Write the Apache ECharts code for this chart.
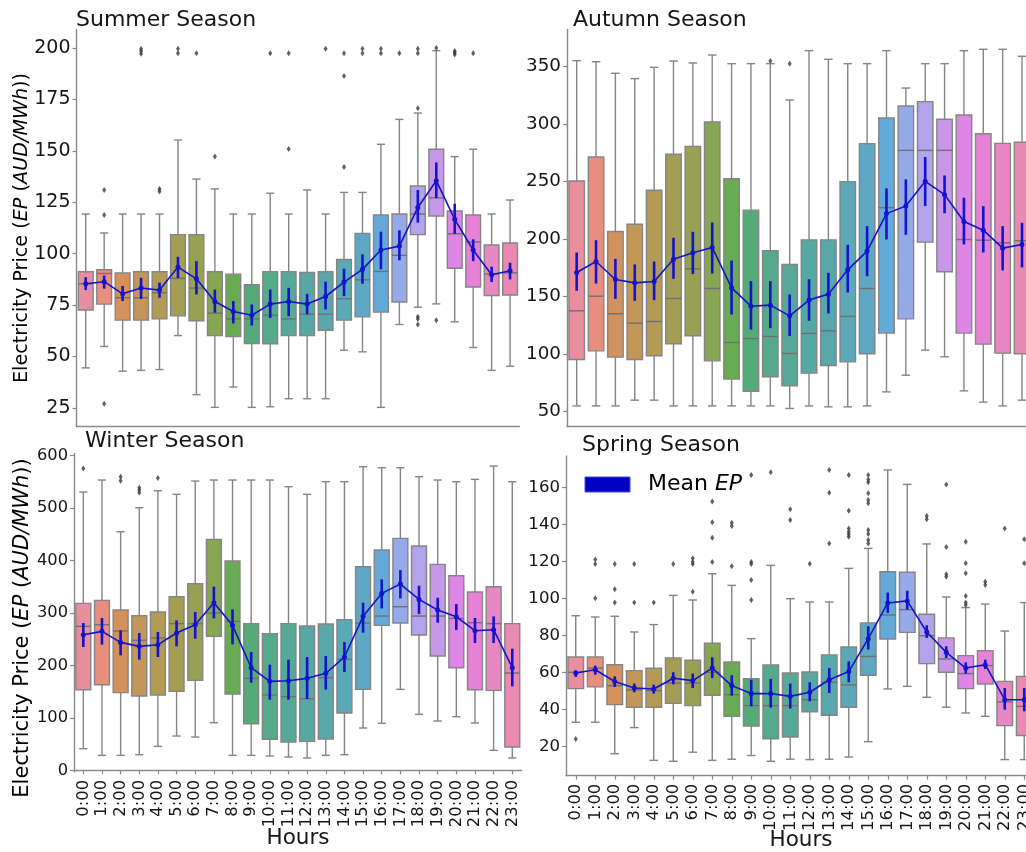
<!DOCTYPE html>
<html>
<head>
<meta charset="utf-8">
<script src="https://cdn.jsdelivr.net/npm/echarts@6/dist/echarts.min.js"></script>
<style>
  html, body { margin: 0; padding: 0; background: #ffffff; }
  #chart { width: 1026px; height: 852px; }
</style>
</head>
<body>
<div id="chart"></div>
<script>
// ---- hour categories ----
const hours = ['0:00','1:00','2:00','3:00','4:00','5:00','6:00','7:00','8:00','9:00','10:00','11:00',
               '12:00','13:00','14:00','15:00','16:00','17:00','18:00','19:00','20:00','21:00','22:00','23:00'];

// ---- Summer ----
const summerLow    = [44.5, 54.9, 42.9, 43.3, 43.7, 60.2, 31.5, 25.3, 35.2, 25.3, 25.6, 29.5, 29.5, 29.5, 53.1, 52.3, 25.3, 65.6, 74.0, 75.6, 66.9, 54.4, 43.3, 45.3];
const summerQ1     = [72.6, 75.5, 67.7, 67.7, 68.3, 69.8, 67.4, 60.2, 59.7, 56.3, 56.2, 60.2, 60.2, 62.8, 67.7, 69.3, 71.6, 76.5, 109.3, 118.3, 92.9, 83.8, 79.7, 79.9];
const summerMedian = [85.4, 90.4, 78.6, 78.6, 81.0, 88.0, 83.3, 71.1, 68.3, 68.3, 70.1, 68.3, 70.6, 70.6, 78.1, 87.3, 91.4, 99.2, 119.3, 127.2, 109.7, 105.7, 90.1, 90.7];
const summerQ3     = [91.2, 92.2, 90.6, 91.2, 91.2, 109.3, 109.3, 91.2, 90.1, 84.9, 91.2, 91.2, 90.9, 91.2, 97.2, 109.9, 118.8, 119.3, 132.9, 150.8, 120.8, 118.8, 104.2, 105.2];
const summerHigh   = [119.3, 110.1, 119.3, 119.3, 119.3, 155.3, 136.3, 131.5, 119.3, 119.3, 129.4, 119.3, 131.0, 119.3, 129.8, 129.8, 153.2, 165.3, 168.4, 198.7, 147.2, 150.8, 119.3, 126.1];
const summerMean   = [85.4, 86.4, 80.5, 83.3, 82.3, 93.5, 87.8, 76.8, 71.9, 70.1, 75.5, 76.8, 75.5, 79.2, 86.2, 92.4, 101.8, 103.7, 122.5, 135.5, 116.7, 101.8, 89.8, 91.7];
const summerCiLow  = [82.3, 83.0, 77.0, 78.0, 78.6, 88.2, 80.2, 71.3, 66.1, 65.1, 68.8, 69.6, 70.5, 72.9, 79.4, 85.4, 92.4, 96.8, 115.1, 127.0, 109.7, 96.4, 86.2, 87.5];
const summerCiHigh = [88.6, 89.4, 84.3, 88.3, 85.9, 98.5, 96.4, 82.6, 77.0, 75.3, 82.6, 83.4, 80.5, 86.4, 92.7, 99.7, 110.7, 111.4, 131.0, 144.4, 124.3, 107.0, 93.7, 95.6];
const summerOutliers = [[1,131],[1,118.8],[1,27.1],[3,199.7],[3,198.5],[3,197.2],[4,131.5],[4,130.2],[5,199.7],[5,197.4],
  [6,197.4],[7,147.2],[10,197.4],[11,197.4],[11,150.9],[13,199.7],[14,197.4],[14,186.4],[14,142.2],[15,199.7],[15,197.4],
  [16,199.7],[16,197.4],[17,197.4],[18,199.7],[18,197.4],[18,170.7],[18,69.3],[18,68.3],[18,65.6],[19,200],[19,67.7],
  [20,198.5],[20,197.7],[20,196.9],[21,197.4]];
const summerTicks = [25, 50, 75, 100, 125, 150, 175, 200];

// ---- Autumn ----
const autumnLow    = [55, 55, 55, 60, 60, 55, 55, 55, 55, 55, 55, 52.8, 55, 54.2, 54.2, 55, 67.2, 81.7, 103.5, 97.7, 68.1, 58.3, 55, 60];
const autumnQ1     = [95.4, 102.9, 97.4, 95.4, 98.6, 109, 116, 94.2, 78.3, 67.8, 80.3, 72.5, 83.5, 90.1, 93.3, 100.3, 118.3, 130.7, 197.4, 171.6, 118.3, 108.7, 100.9, 100.3];
const autumnMedian = [137.7, 150.4, 135.1, 127, 128.4, 148.4, 174.2, 157.1, 110.1, 113.6, 115.4, 100.6, 118, 120.3, 132.8, 157.1, 227.4, 277.2, 277.2, 277.2, 199.7, 199.1, 196.8, 198.6];
const autumnQ3     = [250.6, 271.4, 206.7, 213, 242.5, 273.8, 280.7, 301.9, 252.6, 225.2, 189.9, 178, 199.4, 199.4, 250, 283, 305.4, 315.8, 319.6, 304.2, 308, 291.7, 283.3, 284.2];
const autumnHigh   = [355.2, 354.3, 344.2, 339.6, 349.4, 354.9, 353.2, 360.1, 352.6, 352.6, 352.6, 321, 363.9, 356.4, 352.6, 352.6, 363.9, 331.4, 352.6, 352.6, 363.9, 365.1, 365.1, 359];
const autumnMean   = [171, 180.6, 164.9, 162, 163.2, 182.6, 188.1, 192.8, 157.7, 141.7, 142.6, 133.3, 147, 152.2, 173.3, 189.6, 222.2, 228.8, 250.3, 238.7, 215.4, 207.8, 192.2, 195.4];
const autumnCiLow  = [155.1, 161.4, 148.1, 146.4, 147, 165.5, 169.6, 170.1, 134.5, 121.4, 122.6, 115.7, 129, 135.4, 153.6, 167.8, 199.7, 203.8, 228.8, 222.5, 195.4, 188.4, 172.8, 175.4];
const autumnCiHigh = [188.4, 199.1, 182.9, 178, 180.6, 201.2, 206.4, 214.5, 181.4, 163.5, 163.5, 151.9, 165.2, 170.7, 195.1, 211.3, 244.2, 252, 271.4, 255.4, 236, 228.7, 211.3, 214.2];
const autumnOutliers = [[10, 355], [11, 352.6]];
const autumnTicks = [50, 100, 150, 200, 250, 300, 350];

// ---- Winter ----
const winterLow    = [41.3, 28.5, 28.5, 29.8, 45.7, 65.4, 63.5, 90.8, 28.5, 28.5, 27.3, 25.4, 23.5, 28.5, 29.8, 80.7, 89.6, 154.4, 106.7, 94, 102.3, 90.2, 38.1, 23.5];
const winterQ1     = [153.8, 163.3, 148.1, 141.7, 143.6, 150.6, 171.6, 255.5, 145.5, 88.9, 59, 54, 55.2, 59.7, 109.3, 154.4, 276.5, 280.9, 258, 218, 195.7, 153.8, 152.5, 44.4];
const winterMedian = [274.6, 277.7, 265.7, 247.9, 252.3, 279.7, 279.7, 300, 284.1, 175.4, 143.6, 140.4, 136.6, 176.7, 211.6, 280.9, 294.2, 312, 294.2, 294.2, 289.8, 281.6, 279.7, 185.6];
const winterQ3     = [318.4, 324.1, 305.7, 294.8, 301.8, 331.1, 355.9, 440.4, 399.1, 279.7, 260.6, 279.7, 275.2, 279, 287.3, 388.3, 420.1, 442.3, 427.7, 392.7, 371.1, 340, 350.2, 279.7];
const winterHigh   = [530.7, 553.6, 455, 500.8, 533.2, 526.3, 551.7, 553.6, 553.6, 553.6, 553.6, 540.9, 526.3, 550.4, 550.4, 579, 577.1, 577.1, 560, 553.6, 550.4, 554.9, 580.3, 550.4];
const winterMean   = [258.7, 265, 244, 236.4, 239.6, 261.9, 277.7, 319.6, 276.5, 195.7, 169.7, 170.9, 175.4, 185, 216.1, 293.6, 337.4, 355.2, 326, 305.7, 292.9, 266.3, 268.2, 195.7];
const winterCiLow  = [235.2, 239.6, 219.3, 211, 216.1, 236.4, 251, 289.8, 240.2, 167.1, 134.7, 134.7, 136, 153.8, 187.5, 262.5, 308.8, 327.9, 298, 281.5, 267.5, 242.8, 242.8, 160.1];
const winterCiHigh = [280.9, 290.5, 267, 261.9, 263.8, 286, 301.9, 350.2, 306.9, 225.6, 201.5, 211, 216.1, 218, 244.7, 319.6, 364.1, 381.9, 352.1, 329.2, 317.1, 290.5, 293.6, 232];
const winterOutliers = [[0, 575.8], [2, 560], [2, 552], [3, 539], [3, 534.5], [3, 529.4], [4, 557.4]];
const winterTicks = [0, 100, 200, 300, 400, 500, 600];

// ---- Spring ----
const springLow    = [33, 33, 16, 30.1, 12.4, 11.9, 16.8, 12.4, 13, 15, 11.9, 13, 12.8, 13, 14.2, 22.5, 51, 52.4, 46.5, 41.1, 38, 36.2, 12.8, 12.8];
const springQ1     = [51.2, 52.1, 42.5, 41.1, 41.1, 43.2, 42, 47.6, 36.2, 31, 24.1, 25, 38.7, 36.8, 41.1, 58.4, 78, 81.6, 64.7, 60, 51.2, 53.7, 31.2, 25.8];
const springMedian = [60, 62.3, 52.8, 50.5, 50.1, 54.2, 54.2, 60, 47.9, 42, 42, 42, 45.2, 54.6, 53.2, 68.6, 91, 93.9, 79.8, 67.2, 59.3, 63.6, 44, 41.6];
const springQ3     = [68.3, 68.3, 64.1, 60.9, 62.2, 67.7, 66.5, 75.7, 65.6, 56.6, 64, 59.6, 60.2, 69.4, 73.7, 86.7, 114.4, 114.1, 91.4, 78.6, 69, 71.7, 55.1, 57.8];
const springHigh   = [90.6, 89.9, 90.3, 81.8, 85.8, 101.6, 99.1, 113.3, 107, 78.2, 117.8, 99.8, 98, 98, 116.2, 127, 169.4, 161.6, 129.4, 100.7, 95, 96.9, 82.3, 97.7];
const springMean   = [59.6, 61.4, 55, 51.5, 51, 56.8, 55.5, 62.3, 52.8, 48.5, 48.5, 47, 49.2, 56, 60.4, 78.2, 97.5, 98.6, 81.8, 70.8, 62.3, 64.1, 45.2, 45.2];
const springCiLow  = [57.5, 58.7, 52.1, 49.2, 48.5, 53.5, 51.5, 56.9, 47.4, 41.6, 40.9, 40.4, 44.3, 48.8, 54.6, 72.3, 92.1, 93.9, 78.6, 67.7, 59.3, 61.8, 39.8, 38.9];
const springCiHigh = [61.1, 63.6, 57.8, 53.9, 53.3, 60, 59.3, 68.1, 58.4, 56, 56.4, 53.9, 54.6, 62.3, 65.9, 84.9, 103.1, 104.1, 85.4, 74.1, 65.4, 66.8, 51.5, 51.5];
const springOutliers = [[0,24],[1,121],[1,118.6],[1,100],[2,118.6],[2,104.9],[2,97.8],[3,118.6],[3,97.8],[4,97.8],[5,118.6],
  [6,121.6],[6,119.8],[6,118.6],[6,103.6],[7,152.3],[7,141.1],[7,132.8],[7,119.6],[8,140.9],[8,139.1],[8,117.3],
  [9,166.7],[9,119.6],[9,118.6],[9,109.9],[9,99.1],[10,168.1],[11,148.1],[11,142.3],[12,118.7],[13,169.4],[13,157.1],[13,129.7],
  [14,166.7],[14,147.4],[14,137.7],[14,136],[14,134.6],[14,133.3],[15,166.7],[15,164.3],[15,162.7],[15,156.8],[15,153.2],[15,151.4],
  [15,136.9],[15,134.8],[15,131.5],[15,129.7],[18,144.5],[18,142.7],[19,161.6],[19,127.7],[19,113],[19,111.7],
  [20,130.6],[20,118.9],[20,113.5],[20,101.3],[20,97.7],[20,96.4],[21,109],[21,107.2],[22,137.8],[23,131.9],[23,118.9]];
const springTicks = [20, 40, 60, 80, 100, 120, 140, 160];

// ---- colours: 24-step HUSL palette, desaturated for box fills ----
const HM = [[3.2406,-1.5372,-0.4986],[-0.9689,1.8758,0.0415],[0.0557,-0.2040,1.0570]];
function maxChroma(L, H) {
  const hr = H / 360 * Math.PI * 2, sinH = Math.sin(hr), cosH = Math.cos(hr);
  const sub1 = Math.pow(L + 16, 3) / 1560896;
  const sub2 = sub1 > 0.008856 ? sub1 : L / 903.3;
  let res = Infinity;
  for (const [m1, m2, m3] of HM) {
    const top = (0.99915 * m1 + 1.05122 * m2 + 1.14460 * m3) * sub2;
    const rb = 0.86330 * m3 - 0.17266 * m2;
    const lb = 0.12949 * m3 - 0.38848 * m1;
    const bottom = (rb * sinH + lb * cosH) * sub2;
    for (const t of [0, 1]) {
      const C = L * (top - 1.05122 * t) / (bottom + 0.17266 * sinH * t);
      if (C > 0 && C < res) res = C;
    }
  }
  return res;
}
function huslToRgb(H, S, L) {
  const C = maxChroma(L, H) / 100 * S;
  const hr = H / 360 * 2 * Math.PI;
  const U = C * Math.cos(hr), V = C * Math.sin(hr);
  const t = (L + 16) / 116;
  const Y = Math.pow(t, 3) > 0.008856 ? Math.pow(t, 3) : L / 903.3;
  const varU = U / (13 * L) + 0.19784;
  const varV = V / (13 * L) + 0.46834;
  const X = -(9 * Y * varU) / ((varU - 4) * varV - varU * varV);
  const Z = (9 * Y - 15 * varV * Y - varV * X) / (3 * varV);
  return HM.map(r => {
    let c = r[0] * X + r[1] * Y + r[2] * Z;
    c = c <= 0.0031308 ? 12.92 * c : 1.055 * Math.pow(c, 1 / 2.4) - 0.055;
    return Math.min(1, Math.max(0, c));
  });
}
function rgbToHls(r, g, b) {
  const mx = Math.max(r, g, b), mn = Math.min(r, g, b), l = (mx + mn) / 2;
  if (mx === mn) return [0, l, 0];
  const s = l <= 0.5 ? (mx - mn) / (mx + mn) : (mx - mn) / (2 - mx - mn);
  const rc = (mx - r) / (mx - mn), gc = (mx - g) / (mx - mn), bc = (mx - b) / (mx - mn);
  let h = r === mx ? bc - gc : g === mx ? 2 + rc - bc : 4 + gc - rc;
  h = ((h / 6) % 1 + 1) % 1;
  return [h, l, s];
}
function hlsToRgb(h, l, s) {
  if (s === 0) return [l, l, l];
  const m2 = l <= 0.5 ? l * (1 + s) : l + s - l * s, m1 = 2 * l - m2;
  const v = (hh) => {
    hh = ((hh % 1) + 1) % 1;
    if (hh < 1 / 6) return m1 + (m2 - m1) * hh * 6;
    if (hh < 0.5) return m2;
    if (hh < 2 / 3) return m1 + (m2 - m1) * (2 / 3 - hh) * 6;
    return m1;
  };
  return [v(h + 1 / 3), v(h), v(h - 1 / 3)];
}
const boxColors = hours.map((_, i) => {
  const hue = ((i / 24 + 0.01) % 1) * 359;
  const rgb = huslToRgb(hue, 0.9 * 99, 0.65 * 99);
  const [h, l, s] = rgbToHls(...rgb);
  const out = hlsToRgb(h, l, s * 0.75).map(c => c * 0.9 + 0.1);   // slightly softened fill
  return 'rgb(' + out.map(c => Math.round(c * 255)).join(',') + ')';
});

// ---- shared styling ----
const FONT = 'DejaVu Sans';
const EDGE = '#858585';
const AXIS = '#8a8a8a';
const BLUE = '#1414cc';
const TEXT = '#161616';

const panels = [
  { name: 'Summer', low: summerLow, q1: summerQ1, med: summerMedian, q3: summerQ3, high: summerHigh,
    mean: summerMean, ciLo: summerCiLow, ciHi: summerCiHigh, out: summerOutliers, ticks: summerTicks,
    grid: { left: 76.5, top: 29.5, width: 442.8, height: 397 }, min: 16, max: 209, tickFont: 19, bottom: false },
  { name: 'Autumn', low: autumnLow, q1: autumnQ1, med: autumnMedian, q3: autumnQ3, high: autumnHigh,
    mean: autumnMean, ciLo: autumnCiLow, ciHi: autumnCiHigh, out: autumnOutliers, ticks: autumnTicks,
    grid: { left: 567, top: 29.5, width: 464.7, height: 397 }, min: 37.1, max: 382.3, tickFont: 18.3, bottom: false },
  { name: 'Winter', low: winterLow, q1: winterQ1, med: winterMedian, q3: winterQ3, high: winterHigh,
    mean: winterMean, ciLo: winterCiLow, ciHi: winterCiHigh, out: winterOutliers, ticks: winterTicks,
    grid: { left: 74, top: 453.6, width: 447.6, height: 318.3 }, min: -3, max: 604, tickFont: 16.3, bottom: true },
  { name: 'Spring', low: springLow, q1: springQ1, med: springMedian, q3: springQ3, high: springHigh,
    mean: springMean, ciLo: springCiLow, ciHi: springCiHigh, out: springOutliers, ticks: springTicks,
    grid: { left: 566, top: 455.9, width: 468, height: 319.8 }, min: 4.1, max: 177, tickFont: 16.6, bottom: true }
];

function renderBox(params, api) {
  const i = api.value(0);
  const band = api.size([1, 0])[0];
  const bw = band * 0.8;
  const cw = bw * 0.55;
  const x = api.coord([i, 0])[0];
  const yl = api.coord([i, api.value(1)])[1];
  const y1 = api.coord([i, api.value(2)])[1];
  const ym = api.coord([i, api.value(3)])[1];
  const y3 = api.coord([i, api.value(4)])[1];
  const yh = api.coord([i, api.value(5)])[1];
  const ls = { stroke: EDGE, lineWidth: 1.4 };
  return {
    type: 'group',
    children: [
      { type: 'line', shape: { x1: x, y1: y3, x2: x, y2: yh }, style: ls },
      { type: 'line', shape: { x1: x, y1: y1, x2: x, y2: yl }, style: ls },
      { type: 'line', shape: { x1: x - cw / 2, y1: yh, x2: x + cw / 2, y2: yh }, style: ls },
      { type: 'line', shape: { x1: x - cw / 2, y1: yl, x2: x + cw / 2, y2: yl }, style: ls },
      { type: 'rect', shape: { x: x - bw / 2, y: y3, width: bw, height: y1 - y3 },
        style: { fill: boxColors[i], stroke: EDGE, lineWidth: 1.4 } },
      { type: 'line', shape: { x1: x - bw / 2, y1: ym, x2: x + bw / 2, y2: ym }, style: { stroke: '#707070', lineWidth: 1.4 } }
    ]
  };
}
function renderErr(params, api) {
  const i = api.value(0);
  const a = api.coord([i, api.value(1)]);
  const b = api.coord([i, api.value(2)]);
  return { type: 'line', shape: { x1: a[0], y1: a[1], x2: b[0], y2: b[1] },
           style: { stroke: BLUE, lineWidth: 2.6 } };
}

const grids = [], xAxes = [], yAxes = [], series = [];
panels.forEach((p, k) => {
  grids.push(Object.assign({ outerBoundsMode: 'none', containLabel: false }, p.grid));
  xAxes.push({
    gridIndex: k, type: 'category', data: hours, boundaryGap: true,
    axisLine: { show: true, lineStyle: { color: AXIS, width: 1.4 } },
    axisTick: { show: p.bottom, alignWithLabel: true, length: 4, lineStyle: { color: AXIS, width: 1.2 } },
    axisLabel: { show: p.bottom, rotate: 90, interval: 0, margin: 8, fontSize: 16.4, color: TEXT, fontFamily: FONT },
    splitLine: { show: false }
  });
  yAxes.push({
    gridIndex: k, type: 'value', min: p.min, max: p.max,
    axisLine: { show: true, lineStyle: { color: AXIS, width: 1.4 } },
    axisTick: { show: true, length: 4, lineStyle: { color: AXIS, width: 1.2 }, customValues: p.ticks },
    axisLabel: { fontSize: p.tickFont, color: TEXT, fontFamily: FONT, margin: 6, customValues: p.ticks },
    splitLine: { show: false }
  });
  series.push({
    type: 'custom', name: p.name + ' box', xAxisIndex: k, yAxisIndex: k, z: 2,
    renderItem: renderBox,
    encode: { x: 0, y: [1, 2, 3, 4, 5] },
    data: hours.map((_, i) => [i, p.low[i], p.q1[i], p.med[i], p.q3[i], p.high[i]])
  });
  series.push({
    type: 'scatter', name: p.name + ' outliers', xAxisIndex: k, yAxisIndex: k, z: 3,
    symbol: 'diamond', symbolSize: [4, 6], itemStyle: { color: '#3a3a3a' },
    data: p.out
  });
  series.push({
    type: 'custom', name: p.name + ' ci', xAxisIndex: k, yAxisIndex: k, z: 4,
    renderItem: renderErr,
    encode: { x: 0, y: [1, 2] },
    data: hours.map((_, i) => [i, p.ciLo[i], p.ciHi[i]])
  });
  series.push({
    type: 'line', name: p.name + ' mean', xAxisIndex: k, yAxisIndex: k, z: 5,
    data: p.mean, symbol: 'circle', symbolSize: 5, showSymbol: true,
    lineStyle: { color: BLUE, width: 1.6 }, itemStyle: { color: BLUE }
  });
});

const titleStyle = { fontSize: 22, fontFamily: FONT, fill: TEXT, verticalAlign: 'middle', align: 'left' };
function yLabel(x, y, size) {
  const rich = {
    n: { fontFamily: FONT, color: TEXT, fontSize: size },
    i: { fontFamily: FONT, color: TEXT, fontSize: size, fontStyle: 'italic' }
  };
  return {
    type: 'text', x: x, y: y, rotation: Math.PI / 2,
    style: { text: '{n|Electricity Price (}{i|EP}{n| (}{i|AUD/MWh}{n|))}', rich: rich,
             align: 'center', verticalAlign: 'middle' }
  };
}

const option = {
  animation: false,
  backgroundColor: '#ffffff',
  grid: grids, xAxis: xAxes, yAxis: yAxes, series: series,
  graphic: [
    { type: 'text', x: 76, y: 20, style: Object.assign({ text: 'Summer Season' }, titleStyle) },
    { type: 'text', x: 573, y: 20, style: Object.assign({ text: 'Autumn Season' }, titleStyle) },
    { type: 'text', x: 85, y: 441, style: Object.assign({ text: 'Winter Season' }, titleStyle) },
    { type: 'text', x: 582, y: 445, style: Object.assign({ text: 'Spring Season' }, titleStyle) },
    yLabel(22, 228, 19.2),
    yLabel(23, 628, 21),
    { type: 'text', x: 298, y: 838.5, style: { text: 'Hours', fontSize: 21.5, fontFamily: FONT, fill: TEXT, align: 'center', verticalAlign: 'middle' } },
    { type: 'text', x: 801, y: 840.5, style: { text: 'Hours', fontSize: 21.5, fontFamily: FONT, fill: TEXT, align: 'center', verticalAlign: 'middle' } },
    { type: 'rect', shape: { x: 585, y: 477, width: 45, height: 15 }, style: { fill: '#0000c4', stroke: '#4a4ad8', lineWidth: 1 } },
    { type: 'text', x: 648, y: 484.5,
      style: { text: '{n|Mean }{i|EP}', verticalAlign: 'middle', align: 'left',
               rich: { n: { fontFamily: FONT, fontSize: 22, color: TEXT }, i: { fontFamily: FONT, fontSize: 22, color: TEXT, fontStyle: 'italic' } } } }
  ]
};

const chart = echarts.init(document.getElementById('chart'), null, { renderer: 'canvas' });
chart.setOption(option);
</script>
</body>
</html>
